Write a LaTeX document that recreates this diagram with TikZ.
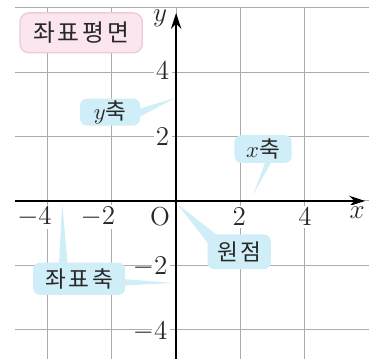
\documentclass[tikz,border=0pt]{standalone}
\usepackage{fontspec}
\newfontfamily\kr{Noto Sans CJK KR}[LetterSpace=12]
\usetikzlibrary{arrows.meta}
\definecolor{gridgray}{RGB}{172,172,172}
\definecolor{notefill}{RGB}{208,238,248}
\definecolor{titlefill}{RGB}{251,229,238}
\definecolor{titleline}{RGB}{238,202,218}
\definecolor{ink}{RGB}{40,40,40}

\begin{document}
\begin{tikzpicture}[x=0.5cm,y=0.5cm,
    font=\fontsize{11.5}{14}\selectfont,
    gridline/.style={gridgray, line width=0.5pt},
    axisline/.style={line width=0.9pt, -{Stealth[length=7pt,width=4.5pt]}},
    tickno/.style={ink, fill=white, inner sep=1pt},
    note/.style={rectangle, rounded corners=3pt, fill=notefill, text=ink,
                 font=\kr\fontsize{10}{12}\selectfont, inner sep=0pt},
    titlebox/.style={rectangle, rounded corners=4pt, fill=titlefill, draw=titleline,
                 line width=0.6pt, text=ink, font=\kr\fontsize{10.5}{12}\selectfont, inner sep=0pt}]
    \useasboundingbox (-5.47,-4.88) rectangle (5.99,6.24);
    \clip (-5.47,-4.88) rectangle (5.99,6.24);

    % grid and axes
    \draw[gridline] (-5,-5) grid (6,6);
    \coordinate (xl) at (-5,0);
    \coordinate (xr) at (5.87,0);
    \coordinate (yd) at (0,-4.9);
    \coordinate (yu) at (0,5.84);
    \draw[axisline] (xl) -- (xr);
    \draw[axisline] (yd) -- (yu);

    % numbers
    \node[tickno] (nx4m) at (-4.07,-0.5) {\llap{$-$}$4$};
    \node[tickno] (nx2m) at (-2.1,-0.5) {\llap{$-$}$2$};
    \node[tickno] (nx2)  at (1.96,-0.5) {$2$};
    \node[tickno] (nx4)  at (4,-0.5) {$4$};
    \node[tickno] (ny4)  at (-0.42,4.04) {$4$};
    \node[tickno] (ny2)  at (-0.42,1.99) {$2$};
    \node[tickno] (ny2m) at (-0.48,-2.05) {\llap{$-$}$2$};
    \node[tickno] (ny4m) at (-0.48,-4.07) {\llap{$-$}$4$};
    \node[tickno] (orig) at (-0.5,-0.5) {O};
    \node[tickno] (ylab) at (-0.5,5.66) {$y$};
    \node[tickno] (xlab) at (5.62,-0.37) {$x$};

    % callouts
    \node[titlebox, minimum width=1.9cm, minimum height=0.62cm] (title) at (-2.95,5.22) {좌표평면};
    \node[note, minimum width=0.93cm, minimum height=0.42cm] (yb) at (-2.05,2.76) {$y$축};
    \node[note, minimum width=0.89cm, minimum height=0.43cm] (xb) at (2.70,1.61) {$x$축};
    \node[note, minimum width=0.98cm, minimum height=0.54cm] (ob) at (1.96,-1.58) {원점};
    \node[note, minimum width=1.43cm, minimum height=0.5cm] (ab) at (-3.01,-2.42) {좌표축};

    \coordinate (ytip) at (-0.03,3.2);
    \coordinate (xtip) at (2.39,0.19);
    \coordinate (otip) at (0.04,-0.1);
    \coordinate (atip1) at (-3.54,-0.05);
    \coordinate (atip2) at (-0.09,-2.55);

    \fill[notefill] (ytip) -- ([xshift=-2pt,yshift=1pt]yb.east) -- ([xshift=-2pt,yshift=-3pt]yb.east) -- cycle;
    \fill[notefill] (xtip) -- ([xshift=1.5pt,yshift=2pt]xb.south) -- ([xshift=4.5pt,yshift=2pt]xb.south) -- cycle;
    \fill[notefill] (otip) -- ([xshift=1pt,yshift=-5pt]ob.north west) -- ([xshift=5pt,yshift=-1pt]ob.north west) -- cycle;
    \fill[notefill] (atip1) -- ([xshift=-9pt,yshift=-2pt]ab.north) -- ([xshift=-5pt,yshift=-2pt]ab.north) -- cycle;
    \fill[notefill] (atip2) -- ([xshift=-2pt,yshift=0pt]ab.east) -- ([xshift=-2pt,yshift=-3pt]ab.east) -- cycle;
\end{tikzpicture}
\end{document}
